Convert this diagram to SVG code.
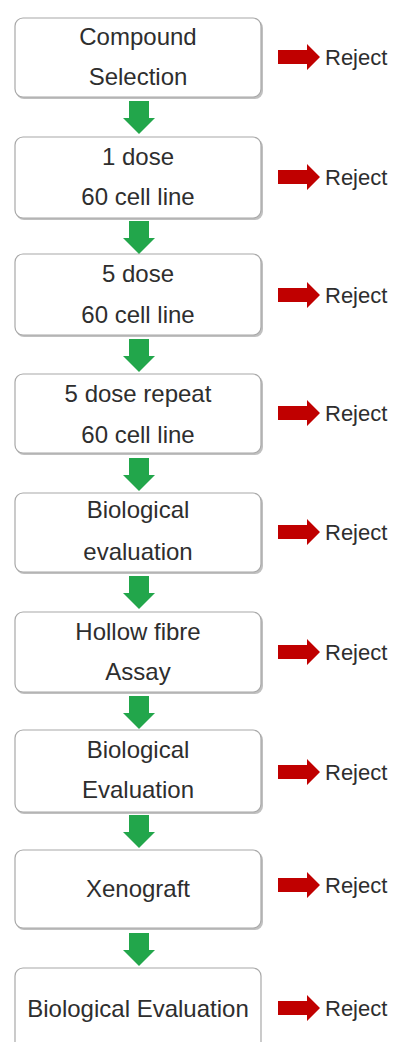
<svg xmlns="http://www.w3.org/2000/svg" width="394" height="1042" viewBox="0 0 394 1042">
<style>
.box{fill:#ffffff;stroke:#a8a8a8;stroke-width:1.2}
.shadow{fill:#8c8c8c;opacity:0.55}
.t{font-family:"Liberation Sans",Arial,sans-serif;font-size:24px;fill:#2e2e2e;text-anchor:middle}
.rej{font-family:"Liberation Sans",Arial,sans-serif;font-size:22px;fill:#2e2e2e}
.g{fill:#22a64b}
.r{fill:#c00000}
</style>
<defs>
<path id="ga" d="M-10,0 H10 V17 H16 L0,33 L-16,17 H-10 Z"/>
<path id="ra" d="M0,-7 H29 V-13 L42,0 L29,13 V7 H0 Z"/>
</defs>
<rect width="394" height="1042" fill="#ffffff"/>

<g id="n1"><rect class="shadow" x="16" y="20" width="247" height="79" rx="8"/><rect class="box" x="15" y="18" width="246" height="79" rx="8"/><text class="t" x="138" y="45">Compound</text><text class="t" x="138" y="85">Selection</text></g>
<g id="n2"><rect class="shadow" x="16" y="139" width="247" height="81" rx="8"/><rect class="box" x="15" y="137" width="246" height="81" rx="8"/><text class="t" x="138" y="165">1 dose</text><text class="t" x="138" y="205">60 cell line</text></g>
<g id="n3"><rect class="shadow" x="16" y="256" width="247" height="81" rx="8"/><rect class="box" x="15" y="254" width="246" height="81" rx="8"/><text class="t" x="138" y="282">5 dose</text><text class="t" x="138" y="323">60 cell line</text></g>
<g id="n4"><rect class="shadow" x="16" y="376" width="247" height="79" rx="8"/><rect class="box" x="15" y="374" width="246" height="79" rx="8"/><text class="t" x="138" y="402">5 dose repeat</text><text class="t" x="138" y="443">60 cell line</text></g>
<g id="n5"><rect class="shadow" x="16" y="495" width="247" height="79" rx="8"/><rect class="box" x="15" y="493" width="246" height="79" rx="8"/><text class="t" x="138" y="518">Biological</text><text class="t" x="138" y="560">evaluation</text></g>
<g id="n6"><rect class="shadow" x="16" y="614" width="247" height="80" rx="8"/><rect class="box" x="15" y="612" width="246" height="80" rx="8"/><text class="t" x="138" y="640">Hollow fibre</text><text class="t" x="138" y="680">Assay</text></g>
<g id="n7"><rect class="shadow" x="16" y="732" width="247" height="82" rx="8"/><rect class="box" x="15" y="730" width="246" height="82" rx="8"/><text class="t" x="138" y="758">Biological</text><text class="t" x="138" y="798">Evaluation</text></g>
<g id="n8"><rect class="shadow" x="16" y="852" width="247" height="78" rx="8"/><rect class="box" x="15" y="850" width="246" height="78" rx="8"/><text class="t" x="138" y="897">Xenograft</text></g>
<g id="n9"><rect class="box" x="15" y="968" width="246" height="90" rx="8"/><text class="t" x="138" y="1017">Biological Evaluation</text></g>

<g id="reject-labels">
<text class="rej" x="325" y="65">Reject</text>
<text class="rej" x="325" y="185">Reject</text>
<text class="rej" x="325" y="303">Reject</text>
<text class="rej" x="325" y="421">Reject</text>
<text class="rej" x="325" y="540">Reject</text>
<text class="rej" x="325" y="660">Reject</text>
<text class="rej" x="325" y="780">Reject</text>
<text class="rej" x="325" y="893">Reject</text>
<text class="rej" x="325" y="1016">Reject</text>
</g>

<g id="connectors">
<use href="#ga" class="g" x="139" y="101"/>
<use href="#ga" class="g" x="139" y="221"/>
<use href="#ga" class="g" x="139" y="339"/>
<use href="#ga" class="g" x="139" y="458"/>
<use href="#ga" class="g" x="139" y="576"/>
<use href="#ga" class="g" x="139" y="696"/>
<use href="#ga" class="g" x="139" y="815"/>
<use href="#ga" class="g" x="139" y="933"/>
<use href="#ra" class="r" x="278" y="57"/>
<use href="#ra" class="r" x="278" y="177"/>
<use href="#ra" class="r" x="278" y="295"/>
<use href="#ra" class="r" x="278" y="413"/>
<use href="#ra" class="r" x="278" y="532"/>
<use href="#ra" class="r" x="278" y="652"/>
<use href="#ra" class="r" x="278" y="772"/>
<use href="#ra" class="r" x="278" y="885"/>
<use href="#ra" class="r" x="278" y="1008"/>
</g>
</svg>
